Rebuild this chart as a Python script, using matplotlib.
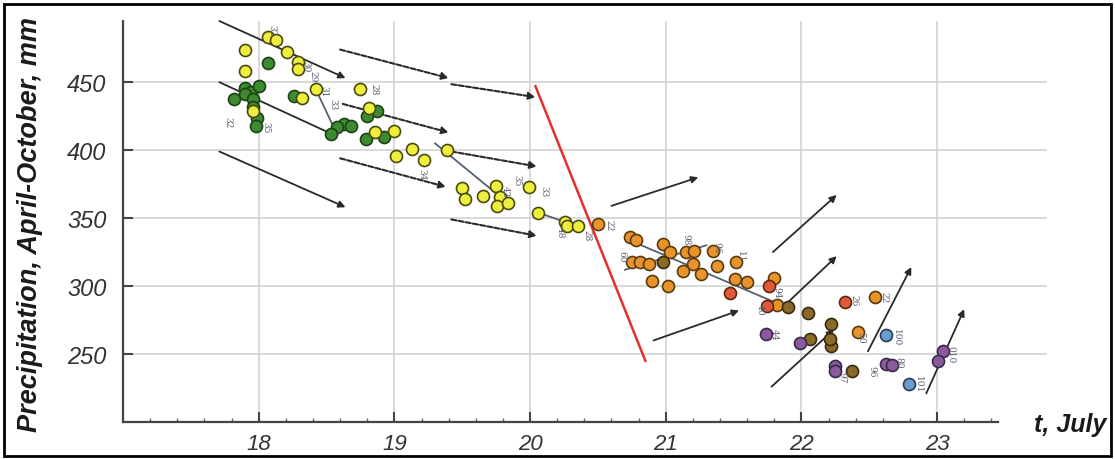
import numpy as np
import matplotlib
matplotlib.use("Agg")
import matplotlib.pyplot as plt
from matplotlib.patches import Rectangle
from matplotlib.ticker import FixedLocator

plt.rcParams["font.family"] = ["Liberation Sans", "DejaVu Sans"]

# ── Data ──────────────────────────────────────────────────────
yellow_x = [18.07, 18.13, 17.90, 18.21, 18.29, 18.29, 17.90, 18.42, 18.32, 17.96,
            18.75, 18.81, 18.86, 19.00, 19.01, 19.13, 19.22, 19.39, 19.50, 19.52,
            19.65, 19.75, 19.78, 19.76, 19.84, 19.99, 20.06, 20.26, 20.27, 20.35]
yellow_y = [483, 481, 473.5, 472, 465, 460, 458, 445, 438, 429,
            445, 431, 413, 414, 396, 401, 393, 400, 372, 364,
            366, 373.5, 365.5, 359, 361, 373, 354, 347, 344, 344]

green_x = [18.07, 17.82, 17.90, 17.94, 18.00, 17.90, 17.96, 17.99, 17.98, 17.96,
           18.26, 18.63, 18.68, 18.58, 18.53, 18.87, 18.80, 18.79, 18.92]
green_y = [464, 437.5, 446, 443, 447, 441, 437.5, 424, 418, 432,
           440, 419, 418, 417, 412, 429, 425, 408, 410]

orange_x = [20.50, 20.74, 20.78, 20.75, 20.81, 20.88, 20.90, 20.98, 21.03, 21.02,
            21.13, 21.15, 21.21, 21.20, 21.26, 21.35, 21.38, 21.52, 21.51, 21.60,
            21.80, 21.82, 22.54, 22.42]
orange_y = [345.6, 336, 334, 318, 318, 316, 304, 331, 325, 300,
            311, 325, 326, 316, 309, 326, 315, 318, 305, 303,
            306, 286, 292, 266]

red_x = [21.47, 21.76, 21.75, 22.32]
red_y = [295, 300, 285, 288]

brown_x = [20.98, 21.90, 22.05, 22.22, 22.22, 22.21, 22.06, 22.37]
brown_y = [318, 284.5, 280, 272, 256, 261, 261, 237.5]

purple_x = [21.74, 21.99, 22.25, 22.25, 22.62, 22.67, 23.04, 23.01]
purple_y = [265, 258, 241, 237.5, 243, 242, 252, 245]

blue_x = [22.62, 22.79]
blue_y = [264, 228]

# boundary line
red_line_x = [20.04, 20.85]
red_line_y = [447, 245]

# arrows: (x0, y0, x1, y1)
solid_arrows = [
    (17.71, 495, 18.64, 453), (17.71, 450, 18.58, 410), (17.71, 399, 18.64, 358),
    (20.60, 359, 21.24, 380), (20.91, 260, 21.54, 282), (21.79, 325, 22.26, 367),
    (21.90, 288, 22.26, 322), (21.78, 226, 22.24, 268), (22.49, 252, 22.81, 314),
    (22.92, 221, 23.20, 283),
]
dashed_arrows = [
    (18.60, 474, 19.40, 453), (19.42, 448.5, 20.04, 439), (18.62, 434, 19.40, 413),
    (19.42, 399, 20.05, 388), (18.60, 394, 19.38, 373), (19.42, 349, 20.05, 337),
]

# trajectory links between points
links = [
    (18.42, 445, 18.58, 411), (19.30, 405, 19.85, 360), (20.06, 354, 20.35, 344),
    (20.75, 333, 21.90, 284), (20.70, 312, 21.30, 330),
]

# small year labels next to points
lab_text = ["32", "30", "29", "31", "32", "35", "33", "28", "34", "35", "42", "33",
            "48", "28", "22", "60", "98", "96", "11", "40", "94", "26", "22", "44",
            "50", "100", "101", "80", "96", "97", "010"]
lab_x = [18.10, 18.35, 18.40, 18.48, 17.77, 18.05, 18.55, 18.85, 19.20, 19.90, 19.82, 20.10,
         20.22, 20.42, 20.58, 20.68, 21.15, 21.38, 21.55, 21.70, 21.82, 22.39, 22.61, 21.80,
         22.44, 22.70, 22.86, 22.72, 22.52, 22.30, 23.10]
lab_y = [489, 462, 455, 444, 421, 417, 434, 445, 383, 378, 370, 370,
         340, 338, 345, 322, 335, 329, 322, 283, 296, 290, 292, 265,
         263, 263, 228, 244, 238, 233, 250]

# ── Figure ────────────────────────────────────────────────────
fig = plt.figure(figsize=(11.15, 4.6), dpi=100)
ax = fig.add_axes([123 / 1115, 1 - 423 / 460, (1047 - 123) / 1115, (423 - 22) / 460])
ax.set_xlim(17.0, 23.81)
ax.set_ylim(200, 495)

ax.set_xticks([18, 19, 20, 21, 22, 23])
ax.set_yticks([250, 300, 350, 400, 450])
ax.xaxis.set_minor_locator(FixedLocator(np.arange(17.2, 23.45, 0.2)))
ax.grid(True, color="#cfcfcf", lw=1.1)
ax.set_axisbelow(True)
for s in ["top", "right"]:
    ax.spines[s].set_visible(False)
for s in ["left", "bottom"]:
    ax.spines[s].set_color("#444444")
    ax.spines[s].set_linewidth(1.6)
ax.spines["bottom"].set_bounds(17.0, 23.45)
ax.tick_params(axis="both", which="major", direction="in", length=7, width=1.5,
               color="#444444", labelsize=17, labelcolor="#333333")
ax.tick_params(axis="x", which="minor", direction="in", length=3, width=1, color="#666666")
ax.tick_params(axis="x", pad=8, labelsize=16)
ax.tick_params(axis="y", pad=12)
for lab in ax.get_xticklabels() + ax.get_yticklabels():
    lab.set_fontstyle("italic")

# links and arrows
for x0, y0, x1, y1 in links:
    ax.plot([x0, x1], [y0, y1], color="#556070", lw=1.3, zorder=2)
for x0, y0, x1, y1 in solid_arrows:
    ax.annotate("", xy=(x1, y1), xytext=(x0, y0),
                arrowprops=dict(arrowstyle="-|>", color="#2a2a2a", lw=1.3,
                                mutation_scale=10, shrinkA=0, shrinkB=0), zorder=3)
for x0, y0, x1, y1 in dashed_arrows:
    ax.annotate("", xy=(x1, y1), xytext=(x0, y0),
                arrowprops=dict(arrowstyle="-|>", color="#2a2a2a", lw=1.5, ls=(0, (2.5, 1)),
                                mutation_scale=10, shrinkA=0, shrinkB=0), zorder=3)

ax.plot(red_line_x, red_line_y, color="#e03030", lw=1.8, zorder=4)

groups = [
    (green_x, green_y, "#3d8a30", "#1d4216"),
    (yellow_x, yellow_y, "#eeee3c", "#4a4a10"),
    (orange_x, orange_y, "#e8942a", "#5a3a10"),
    (red_x, red_y, "#e2583a", "#5a2a10"),
    (brown_x, brown_y, "#8a6a26", "#3a2a10"),
    (purple_x, purple_y, "#8a5a9c", "#3a2a4a"),
    (blue_x, blue_y, "#6c9ccc", "#2a3a5a"),
]
for gx, gy, fc, ec in groups:
    ax.scatter(gx, gy, s=75, c=fc, edgecolors=ec, linewidths=1.2, zorder=5)

for t, x, y in zip(lab_text, lab_x, lab_y):
    ax.text(x, y, t, fontsize=6.5, color="#5a6070", rotation=-90,
            ha="center", va="center", family="DejaVu Serif", zorder=6)

fig.text(30 / 1115, 1 - 225 / 460, "Precipitation, April-October, mm", rotation=90,
         fontsize=19.5, fontweight="bold", fontstyle="italic", color="#1a1a1a",
         ha="center", va="center")
fig.text(1070 / 1115, 1 - 425 / 460, "t, July", fontsize=18, fontweight="bold",
         fontstyle="italic", color="#1a1a1a", ha="center", va="center")

fig.patches.append(Rectangle((0.004, 0.006), 0.992, 0.984, transform=fig.transFigure,
                             fill=False, ec="black", lw=2))

fig.savefig("out.png", dpi=100)
